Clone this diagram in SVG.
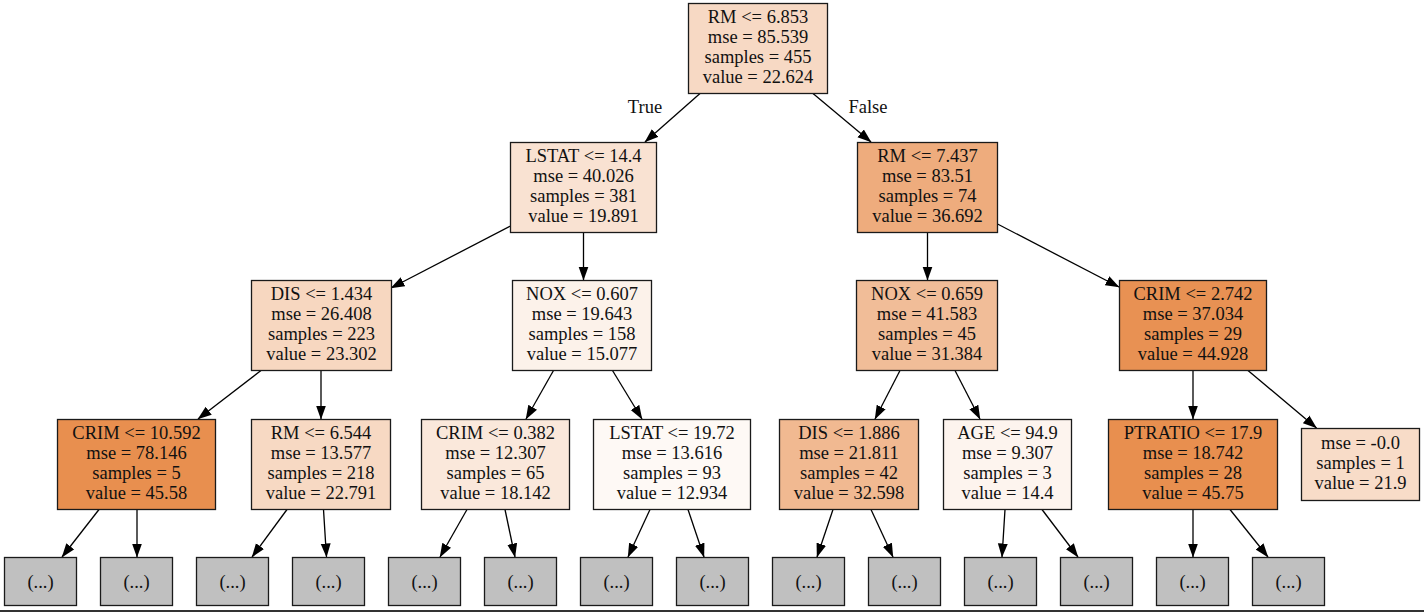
<svg xmlns="http://www.w3.org/2000/svg" width="1424" height="612" viewBox="0 0 1424 612">
<style>
.n rect{stroke:#1a1a1a;stroke-width:1.3}
.t{font-family:"Liberation Serif","Times New Roman",serif;font-size:18.5px;fill:#111;text-anchor:middle}
.l rect{fill:#c0c0c0;stroke:#1a1a1a;stroke-width:1.3}
.e line{stroke:#000;stroke-width:1.3;marker-end:url(#ah)}
</style>
<defs>
<marker id="ah" markerUnits="userSpaceOnUse" markerWidth="14" markerHeight="11" refX="13.5" refY="5" orient="auto" viewBox="0 0 14 10">
<path d="M0,0 L14,5 L0,10 z" fill="#000"/>
</marker>
</defs>
<rect x="0" y="0" width="1424" height="612" fill="#fff"/>
<g id="edges" class="e">
<line x1="700" y1="93.5" x2="645" y2="142"/>
<line x1="813" y1="93.5" x2="871" y2="142"/>
<line x1="510.5" y1="226" x2="391" y2="288"/>
<line x1="583.5" y1="232.5" x2="583.5" y2="280"/>
<line x1="927.5" y1="232.5" x2="927.5" y2="280"/>
<line x1="997.5" y1="224" x2="1119" y2="287"/>
<line x1="261" y1="370.5" x2="198" y2="419"/>
<line x1="321" y1="370.5" x2="321" y2="419"/>
<line x1="553.5" y1="370.5" x2="526" y2="419"/>
<line x1="612.5" y1="370.5" x2="642" y2="419"/>
<line x1="900" y1="370.5" x2="875" y2="419"/>
<line x1="955" y1="370.5" x2="980" y2="419"/>
<line x1="1193" y1="370.5" x2="1193" y2="419"/>
<line x1="1248" y1="370.5" x2="1316.5" y2="428"/>
<line x1="99" y1="509.5" x2="62" y2="557"/>
<line x1="137" y1="509.5" x2="137" y2="557"/>
<line x1="287" y1="509.5" x2="252" y2="557"/>
<line x1="323.5" y1="509.5" x2="326.5" y2="557"/>
<line x1="467" y1="509.5" x2="440" y2="557"/>
<line x1="505" y1="509.5" x2="515" y2="557"/>
<line x1="650" y1="509.5" x2="628" y2="557"/>
<line x1="688" y1="509.5" x2="704" y2="557"/>
<line x1="833" y1="509.5" x2="817" y2="557"/>
<line x1="871" y1="509.5" x2="893" y2="557"/>
<line x1="1005" y1="509.5" x2="1002" y2="557"/>
<line x1="1042" y1="509.5" x2="1078" y2="557"/>
<line x1="1193" y1="509.5" x2="1193" y2="557"/>
<line x1="1230" y1="509.5" x2="1268" y2="557"/>
</g>
<g id="edge-labels">
<text class="t" x="645" y="113">True</text>
<text class="t" x="868" y="113">False</text>
</g>
<g id="n0" class="n"><rect x="688.5" y="3.5" width="139" height="90" fill="#f7d9c4"/>
<text class="t" x="758"><tspan x="758" y="23">RM &lt;= 6.853</tspan><tspan x="758" y="43">mse = 85.539</tspan><tspan x="758" y="63">samples = 455</tspan><tspan x="758" y="83">value = 22.624</tspan></text></g>
<g id="n1" class="n"><rect x="510.5" y="142.5" width="146" height="90" fill="#f9e2d2"/>
<text class="t"><tspan x="583.5" y="162">LSTAT &lt;= 14.4</tspan><tspan x="583.5" y="182">mse = 40.026</tspan><tspan x="583.5" y="202">samples = 381</tspan><tspan x="583.5" y="222">value = 19.891</tspan></text></g>
<g id="n2" class="n"><rect x="857.5" y="142.5" width="140" height="90" fill="#eeac7d"/>
<text class="t"><tspan x="927.5" y="162">RM &lt;= 7.437</tspan><tspan x="927.5" y="182">mse = 83.51</tspan><tspan x="927.5" y="202">samples = 74</tspan><tspan x="927.5" y="222">value = 36.692</tspan></text></g>
<g id="n3" class="n"><rect x="251.5" y="280.5" width="140" height="90" fill="#f7d7c0"/>
<text class="t"><tspan x="321.5" y="300">DIS &lt;= 1.434</tspan><tspan x="321.5" y="320">mse = 26.408</tspan><tspan x="321.5" y="340">samples = 223</tspan><tspan x="321.5" y="360">value = 23.302</tspan></text></g>
<g id="n4" class="n"><rect x="512.5" y="280.5" width="139" height="90" fill="#fcf2ea"/>
<text class="t"><tspan x="582" y="300">NOX &lt;= 0.607</tspan><tspan x="582" y="320">mse = 19.643</tspan><tspan x="582" y="340">samples = 158</tspan><tspan x="582" y="360">value = 15.077</tspan></text></g>
<g id="n5" class="n"><rect x="856.5" y="280.5" width="141" height="90" fill="#f1bd98"/>
<text class="t"><tspan x="927" y="300">NOX &lt;= 0.659</tspan><tspan x="927" y="320">mse = 41.583</tspan><tspan x="927" y="340">samples = 45</tspan><tspan x="927" y="360">value = 31.384</tspan></text></g>
<g id="n6" class="n"><rect x="1119.5" y="280.5" width="147" height="90" fill="#e89153"/>
<text class="t"><tspan x="1193" y="300">CRIM &lt;= 2.742</tspan><tspan x="1193" y="320">mse = 37.034</tspan><tspan x="1193" y="340">samples = 29</tspan><tspan x="1193" y="360">value = 44.928</tspan></text></g>
<g id="n7" class="n"><rect x="57.5" y="419.5" width="158" height="90" fill="#e88f4f"/>
<text class="t"><tspan x="136.5" y="439">CRIM &lt;= 10.592</tspan><tspan x="136.5" y="459">mse = 78.146</tspan><tspan x="136.5" y="479">samples = 5</tspan><tspan x="136.5" y="499">value = 45.58</tspan></text></g>
<g id="n8" class="n"><rect x="251.5" y="419.5" width="139" height="90" fill="#f7d9c3"/>
<text class="t"><tspan x="321" y="439">RM &lt;= 6.544</tspan><tspan x="321" y="459">mse = 13.577</tspan><tspan x="321" y="479">samples = 218</tspan><tspan x="321" y="499">value = 22.791</tspan></text></g>
<g id="n9" class="n"><rect x="421.5" y="419.5" width="148" height="90" fill="#fae8db"/>
<text class="t"><tspan x="495.5" y="439">CRIM &lt;= 0.382</tspan><tspan x="495.5" y="459">mse = 12.307</tspan><tspan x="495.5" y="479">samples = 65</tspan><tspan x="495.5" y="499">value = 18.142</tspan></text></g>
<g id="n10" class="n"><rect x="593.5" y="419.5" width="157" height="90" fill="#fef9f5"/>
<text class="t"><tspan x="672" y="439">LSTAT &lt;= 19.72</tspan><tspan x="672" y="459">mse = 13.616</tspan><tspan x="672" y="479">samples = 93</tspan><tspan x="672" y="499">value = 12.934</tspan></text></g>
<g id="n11" class="n"><rect x="779.5" y="419.5" width="139" height="90" fill="#f1b991"/>
<text class="t"><tspan x="849" y="439">DIS &lt;= 1.886</tspan><tspan x="849" y="459">mse = 21.811</tspan><tspan x="849" y="479">samples = 42</tspan><tspan x="849" y="499">value = 32.598</tspan></text></g>
<g id="n12" class="n"><rect x="943.5" y="419.5" width="128" height="90" fill="#fdf4ee"/>
<text class="t"><tspan x="1007.5" y="439">AGE &lt;= 94.9</tspan><tspan x="1007.5" y="459">mse = 9.307</tspan><tspan x="1007.5" y="479">samples = 3</tspan><tspan x="1007.5" y="499">value = 14.4</tspan></text></g>
<g id="n13" class="n"><rect x="1108.5" y="419.5" width="169" height="90" fill="#e88f4f"/>
<text class="t"><tspan x="1193" y="439">PTRATIO &lt;= 17.9</tspan><tspan x="1193" y="459">mse = 18.742</tspan><tspan x="1193" y="479">samples = 28</tspan><tspan x="1193" y="499">value = 45.75</tspan></text></g>
<g id="n14" class="n"><rect x="1301.5" y="428.5" width="118" height="72" fill="#f8dcc8"/>
<text class="t"><tspan x="1360.5" y="449">mse = -0.0</tspan><tspan x="1360.5" y="469">samples = 1</tspan><tspan x="1360.5" y="489">value = 21.9</tspan></text></g>
<g id="l0" class="l"><rect x="4.5" y="557.5" width="72" height="48"/><text class="t" x="40.5" y="587.5">(...)</text></g>
<g id="l1" class="l"><rect x="100.5" y="557.5" width="72" height="48"/><text class="t" x="136.5" y="587.5">(...)</text></g>
<g id="l2" class="l"><rect x="196.5" y="557.5" width="72" height="48"/><text class="t" x="232.5" y="587.5">(...)</text></g>
<g id="l3" class="l"><rect x="292.5" y="557.5" width="72" height="48"/><text class="t" x="328.5" y="587.5">(...)</text></g>
<g id="l4" class="l"><rect x="388.5" y="557.5" width="72" height="48"/><text class="t" x="424.5" y="587.5">(...)</text></g>
<g id="l5" class="l"><rect x="484.5" y="557.5" width="72" height="48"/><text class="t" x="520.5" y="587.5">(...)</text></g>
<g id="l6" class="l"><rect x="580.5" y="557.5" width="72" height="48"/><text class="t" x="616.5" y="587.5">(...)</text></g>
<g id="l7" class="l"><rect x="676.5" y="557.5" width="72" height="48"/><text class="t" x="712.5" y="587.5">(...)</text></g>
<g id="l8" class="l"><rect x="772.5" y="557.5" width="72" height="48"/><text class="t" x="808.5" y="587.5">(...)</text></g>
<g id="l9" class="l"><rect x="868.5" y="557.5" width="72" height="48"/><text class="t" x="904.5" y="587.5">(...)</text></g>
<g id="l10" class="l"><rect x="964.5" y="557.5" width="72" height="48"/><text class="t" x="1000.5" y="587.5">(...)</text></g>
<g id="l11" class="l"><rect x="1060.5" y="557.5" width="72" height="48"/><text class="t" x="1096.5" y="587.5">(...)</text></g>
<g id="l12" class="l"><rect x="1156.5" y="557.5" width="72" height="48"/><text class="t" x="1192.5" y="587.5">(...)</text></g>
<g id="l13" class="l"><rect x="1252.5" y="557.5" width="72" height="48"/><text class="t" x="1288.5" y="587.5">(...)</text></g>
<rect x="0" y="610" width="1424" height="2" fill="#333"/>
</svg>
